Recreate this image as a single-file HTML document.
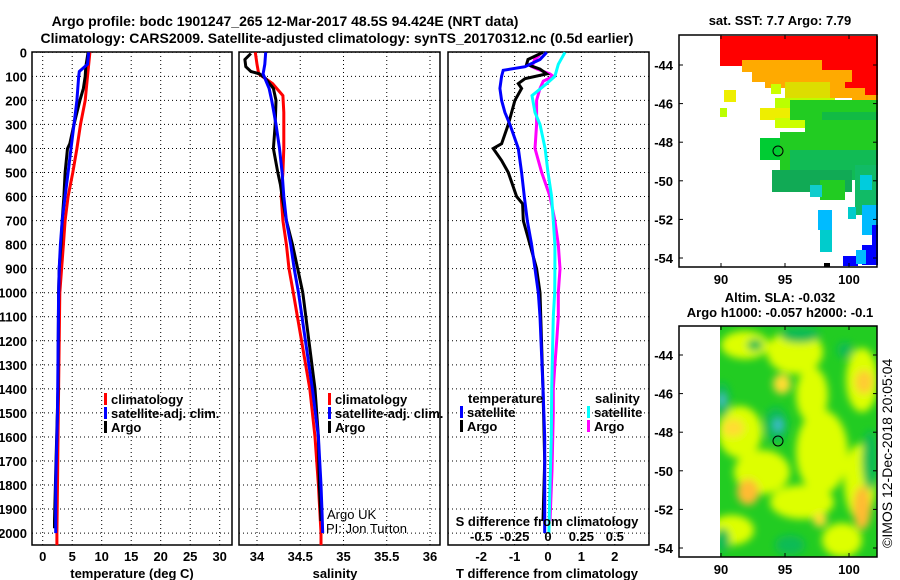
<!DOCTYPE html>
<html><head><meta charset="utf-8"><style>
html,body{margin:0;padding:0;background:#fff;}
svg{display:block;font-family:"Liberation Sans",sans-serif;}
.t{font-weight:bold;font-size:13px;fill:#000;}
.g{stroke:#000;stroke-width:1;stroke-dasharray:1,3;}
</style></head><body>
<svg id="chart" width="900" height="580" viewBox="0 0 900 580" xmlns="http://www.w3.org/2000/svg">
<defs>
<filter id="blur" x="-20%" y="-20%" width="140%" height="140%"><feGaussianBlur stdDeviation="4"/></filter>
<clipPath id="m2clip"><rect x="720" y="326" width="157" height="231"/></clipPath>
</defs>
<text x="285" y="26" text-anchor="middle" class="t" style="font-size:14px">Argo profile: bodc 1901247_265 12-Mar-2017 48.5S 94.424E (NRT data)</text>
<text x="337" y="43" text-anchor="middle" class="t" style="font-size:14px">Climatology: CARS2009. Satellite-adjusted climatology: synTS_20170312.nc (0.5d earlier)</text>
<g id="p1"></g>
<g id="p2"></g>
<g id="p3"></g>
<g id="m1"></g>
<g id="m2"></g>
<text transform="translate(892,548) rotate(-90)" font-size="14">©IMOS 12-Dec-2018 20:05:04</text>
</svg>
<script>
// ---- data ----
var tempClimDepth=[0,100,200,300,400,500,600,700,800,900,1000,1200,1400,1600,1800,2000,2050];
var tempClim=[8.0,7.6,7.2,6.4,5.8,5.1,4.3,3.8,3.5,3.2,2.9,2.8,2.7,2.6,2.5,2.4,2.4];
var tempSatDepth=[0,50,80,100,200,300,400,500,600,700,800,900,1000,1500,1800,2000];
var tempSat=[7.8,7.6,6.2,6.1,5.8,5.3,4.8,4.3,3.8,3.3,3.0,2.8,2.7,2.5,2.2,2.2];
var tempArgoDepth=[0,60,100,150,200,300,380,400,500,600,700,800,900,1000,1400,1750,1950,1980];
var tempArgo=[7.7,7.3,7.2,6.9,6.3,5.3,4.6,4.2,3.8,3.6,3.3,3.1,2.8,2.7,2.6,2.2,2.0,2.0];
var salClimDepth=[0,50,90,130,180,250,400,500,600,700,800,900,1000,1400,1600,1800,2000,2050];
var salClim=[33.98,34.0,34.02,34.18,34.30,34.31,34.31,34.30,34.28,34.30,34.34,34.37,34.42,34.61,34.67,34.71,34.74,34.74];
var salSatDepth=[0,50,90,150,200,300,400,500,600,700,800,900,1000,1400,1600,1800,1900,2000];
var salSat=[34.10,34.09,34.07,34.14,34.17,34.22,34.26,34.29,34.31,34.34,34.39,34.43,34.48,34.64,34.71,34.74,34.75,34.76];
var salArgoDepth=[5,30,60,80,90,110,150,200,300,400,500,550,600,700,800,900,1000,1400,1600,1800,1950];
var salArgo=[33.93,33.86,33.87,33.93,34.03,34.10,34.19,34.22,34.21,34.19,34.24,34.27,34.29,34.34,34.41,34.47,34.53,34.67,34.71,34.72,34.74];
var dTSatDepth=[0,30,60,75,100,150,200,250,300,400,500,600,700,800,900,1000,1100,1400,1600,2000];
var dTSat=[-0.04,-0.24,-0.69,-1.34,-1.39,-1.44,-1.39,-1.29,-1.14,-0.89,-0.79,-0.71,-0.62,-0.49,-0.39,-0.29,-0.24,-0.15,-0.1,-0.1];
var dTArgoDepth=[0,30,50,70,90,110,130,150,200,300,380,400,450,500,600,630,700,800,900,1000,1400,1700,1950];
var dTArgo=[-0.15,-0.6,-0.64,-0.24,-0.04,-0.69,-0.89,-0.79,-0.99,-1.19,-1.39,-1.64,-1.39,-1.19,-0.94,-0.76,-0.74,-0.54,-0.34,-0.24,-0.15,-0.1,-0.15];
var dSSatDepth=[0,50,100,130,180,250,300,400,500,600,700,800,900,1000,1100,1400,1600,1800,2000];
var dSSat=[0.127,0.077,0.052,-0.01,-0.12,-0.097,-0.06,-0.022,0,0.027,0.04,0.052,0.052,0.05,0.04,0.028,0.025,0.015,0.007];
var dSArgoDepth=[10,30,60,70,90,100,120,150,200,300,400,500,600,700,800,900,1000,1100,1200,1300,1400,1500,1740,1950];
var dSArgo=[-0.06,-0.1,-0.12,-0.08,0.015,0.04,-0.035,-0.06,-0.085,-0.085,-0.097,-0.047,0.015,0.052,0.077,0.09,0.077,0.077,0.065,0.052,0.04,0.04,0.03,0.015];
var depthTicks=[0,100,200,300,400,500,600,700,800,900,1000,1100,1200,1300,1400,1500,1600,1700,1800,1900,2000];
var tempTicks=[0,5,10,15,20,25,30];
var salTicks=[34,34.5,35,35.5,36];
var salTickLabels=["34","34.5","35","35.5","36"];
var dTTicks=[-2,-1,0,1,2];
var dSTicks=[-0.5,-0.25,0,0.25,0.5];
var dSTickLabels=["-0.5","-0.25","0","0.25","0.5"];
var latTicks=[-44,-46,-48,-50,-52,-54];
var lonTicks=[90,95,100];

var NS="http://www.w3.org/2000/svg";
function el(parent,tag,attrs,txt){var e=document.createElementNS(NS,tag);for(var k in attrs)e.setAttribute(k,attrs[k]);if(txt!==undefined)e.textContent=txt;parent.appendChild(e);return e;}
function yD(d){return 52.3+d*0.2404;}
var TOP=52,BOT=545;
function xT(t){return 42.7+t*5.9;}
function xS(s){return 257+(s-34)*86.5;}
function xDT(t){return 548+t*33.4;}
function xDS(s){return 548+s*133.6;}

function frame(g,x0,x1,xTicks,xf,labels,withDepthLabels){
  depthTicks.forEach(function(d){
    var l=el(g,'line',{x1:x0,x2:x1,y1:yD(d),y2:yD(d),'class':'g'});
    
    
    if(withDepthLabels){
      var t=el(g,'text',{x:27,y:yD(d)+5,'text-anchor':'end','class':'t'},String(d));
      
      
    }
  });
  xTicks.forEach(function(v,i){
    var l=el(g,'line',{x1:xf(v),x2:xf(v),y1:TOP,y2:BOT,'class':'g'});
    
    
    if(labels){
      var t=el(g,'text',{x:xf(v),y:561,'text-anchor':'middle','class':'t'},labels[i]);
      
      
    }
  });
  var r=el(g,'rect',{x:x0,y:TOP,width:x1-x0,height:BOT-TOP,fill:'none',stroke:'#000','stroke-width':1.5});
  
  
}
function series(g,depths,vals,xf,color,name){
  var pts=depths.map(function(d,i){return xf(vals[i]).toFixed(1)+','+yD(d).toFixed(1);}).join(' ');
  var p=el(g,'polyline',{points:pts,fill:'none',stroke:color,'stroke-width':3});
  
  
}
function legend(g,x,y,color,label){
  var r=el(g,'rect',{x:x,y:y-11,width:3,height:12,fill:color});
  
  
  var t=el(g,'text',{x:x+7,y:y,'class':'t'},label);
  
  
}
// panel 1
var p1=document.getElementById('p1');
frame(p1,32,232,tempTicks,xT,tempTicks.map(String),true);
series(p1,tempClimDepth,tempClim,xT,'#f00','climatology-temp-line');
series(p1,tempArgoDepth,tempArgo,xT,'#000','argo-temp-line');
series(p1,tempSatDepth,tempSat,xT,'#00f','satellite-temp-line');
legend(p1,104,404,'#f00','climatology');legend(p1,104,418,'#00f','satellite-adj. clim.');legend(p1,104,432,'#000','Argo');
var a=el(p1,'text',{x:132,y:578,'text-anchor':'middle','class':'t'},'temperature (deg C)');


// panel 2
var p2=document.getElementById('p2');
frame(p2,239,440,salTicks,xS,salTickLabels,false);
series(p2,salClimDepth,salClim,xS,'#f00','climatology-salinity-line');
series(p2,salArgoDepth,salArgo,xS,'#000','argo-salinity-line');
series(p2,salSatDepth,salSat,xS,'#00f','satellite-salinity-line');
legend(p2,328,404,'#f00','climatology');legend(p2,328,418,'#00f','satellite-adj. clim.');legend(p2,328,432,'#000','Argo');
a=el(p2,'text',{x:335,y:578,'text-anchor':'middle','class':'t'},'salinity');


a=el(p2,'text',{x:327,y:519,'font-size':13},'Argo UK');


a=el(p2,'text',{x:326,y:533,'font-size':13},'PI: Jon Turton');


// panel 3
var p3=document.getElementById('p3');
frame(p3,448,649,dTTicks,xDT,dTTicks.map(String),false);
series(p3,dSArgoDepth,dSArgo,xDS,'#f0f','argo-salinity-diff-line');
series(p3,dSSatDepth,dSSat,xDS,'#0ff','satellite-salinity-diff-line');
series(p3,dTArgoDepth,dTArgo,xDT,'#000','argo-temp-diff-line');
series(p3,dTSatDepth,dTSat,xDT,'#00f','satellite-temp-diff-line');
a=el(p3,'text',{x:468,y:403,'class':'t'},'temperature');


a=el(p3,'text',{x:595,y:403,'class':'t'},'salinity');


legend(p3,460,417,'#00f','satellite');legend(p3,460,431,'#000','Argo');
legend(p3,587,417,'#0ff','satellite');legend(p3,587,431,'#f0f','Argo');
a=el(p3,'text',{x:547,y:526,'text-anchor':'middle','class':'t'},'S difference from climatology');


dSTicks.forEach(function(v,i){
  var t=el(p3,'text',{x:xDS(v),y:541,'text-anchor':'middle','class':'t'},dSTickLabels[i]);
  
  
});
a=el(p3,'text',{x:547,y:578,'text-anchor':'middle','class':'t'},'T difference from climatology');



// maps
function lonX(l){return 721+(l-90)*12.8;}
function mapAxes(g,top,bot,lat0){
  latTicks.forEach(function(v){
    var y=lat0+(-44-v)*19.3;
    var t=el(g,'text',{x:673,y:y+5,'text-anchor':'end','class':'t'},String(v));
    
    
    el(g,'line',{x1:679,x2:683,y1:y,y2:y,stroke:'#000'});
    el(g,'line',{x1:873,x2:877,y1:y,y2:y,stroke:'#000'});
  });
  lonTicks.forEach(function(v){
    var t=el(g,'text',{x:lonX(v),y:bot+17,'text-anchor':'middle','class':'t'},String(v));
    
    
    el(g,'line',{x1:lonX(v),x2:lonX(v),y1:top,y2:top+4,stroke:'#000'});
    el(g,'line',{x1:lonX(v),x2:lonX(v),y1:bot-4,y2:bot,stroke:'#000'});
  });
  var r=el(g,'rect',{x:679,y:top,width:198,height:bot-top,fill:'none',stroke:'#000','stroke-width':1.5});
  
  
}
var m1=document.getElementById('m1');
var blocks=[
 ['#f00',720,36,158,30],['#f00',840,60,38,36],['#f00',820,60,20,22],
 ['#fa0',742,60,80,12],['#fa0',752,70,100,12],['#fa0',765,78,80,10],['#fa0',830,88,35,10],['#fa0',852,95,26,14],
 ['#dd0',785,82,45,20],['#bf0',775,98,60,12],['#ee0',760,108,45,12],['#cf0',775,118,40,10],
 ['#ee0',724,90,12,12],['#bf0',720,108,7,9],['#cf0',771,84,10,10],
 ['#2c2',790,100,88,20],['#1b4',822,112,56,25],['#2c2',805,120,73,30],['#0c3',760,138,45,22],['#2c2',780,132,40,55],
 ['#1b5',790,150,88,30],['#1a5',772,170,80,22],['#2c2',820,180,25,20],['#1b6',855,165,23,50],
 ['#1cc',810,185,12,12],['#0cd',860,175,12,15],['#0bf',818,210,14,20],['#0cc',820,230,12,22],['#0cc',848,207,8,12],
 ['#0bf',862,205,16,30],['#00f',872,225,6,40],['#00f',862,245,16,20],['#00f',843,256,15,10],['#0bf',856,250,10,14],['#000',824,263,6,4],
 ['#2c2',870,130,8,20]
];
blocks.forEach(function(b){el(m1,'rect',{x:b[1],y:b[2],width:b[3],height:b[4],fill:b[0]});});
el(m1,'circle',{cx:778,cy:151,r:5,fill:'none',stroke:'#000'});
mapAxes(m1,35,267,65);
a=el(m1,'text',{x:780,y:25,'text-anchor':'middle','class':'t'},'sat. SST: 7.7 Argo: 7.79');



var m2=document.getElementById('m2');
var cg=el(m2,'g',{'clip-path':'url(#m2clip)'});
el(cg,'rect',{x:720,y:326,width:157,height:231,fill:'#2c2'});
var bg=el(cg,'g',{filter:'url(#blur)'});
var blobs=[
 ['#df0',745,345,24,14],['#df0',795,352,28,22],['#df0',812,395,16,28],['#fd3',782,384,9,10],['#df0',862,380,16,32],['#fc3',864,382,9,12],
 ['#df0',740,432,22,26],['#fd3',733,428,11,9],['#df0',822,452,26,42],['#df0',762,472,28,22],['#fb3',748,492,11,13],
 ['#df0',860,482,16,38],['#fb3',862,508,9,22],['#df0',802,502,32,17],['#df0',842,540,20,17],['#fd3',820,520,7,7],['#df0',732,530,22,15],
 ['#1b5',776,425,12,18],['#4bd',778,425,4,6],['#1b5',755,345,8,6],['#1b5',800,335,20,8],['#1b5',845,350,8,8],['#1b5',870,460,8,30],['#1b5',722,400,8,18],['#5bd',722,400,3,6],['#1b5',722,540,8,12],['#1b5',790,545,15,10]
];
blobs.forEach(function(b){el(bg,'ellipse',{cx:b[1],cy:b[2],rx:b[3],ry:b[4],fill:b[0]});});
el(m2,'circle',{cx:778,cy:441,r:5,fill:'none',stroke:'#000'});
mapAxes(m2,326,557,355);
a=el(m2,'text',{x:780,y:302,'text-anchor':'middle','class':'t'},'Altim. SLA: -0.032');


a=el(m2,'text',{x:780,y:317,'text-anchor':'middle','class':'t'},'Argo h1000: -0.057 h2000: -0.1');


</script>
</body></html>
